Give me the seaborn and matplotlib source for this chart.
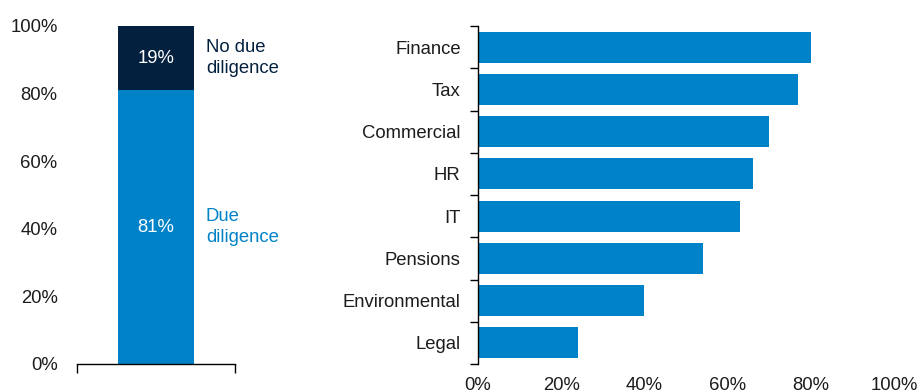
import numpy as np
import pandas as pd
import matplotlib
matplotlib.use("Agg")
import matplotlib.pyplot as plt
from matplotlib.ticker import FixedLocator, PercentFormatter
import seaborn as sns

# Share of deals with / without due diligence
due_diligence = 81
no_due_diligence = 19

# Areas covered by due diligence (% of deals)
areas = ["Finance", "Tax", "Commercial", "HR", "IT", "Pensions", "Environmental", "Legal"]
area_share = [80, 77, 70, 66, 63, 54, 40, 24]

x_ticks = [0, 20, 40, 60, 80, 100]

BLUE = "#0082C8"
NAVY = "#03203F"
TEXT = "#1c1c1c"
FS = 13.3

sns.set_theme(style="white")
plt.rcParams["font.family"] = ["Liberation Sans", "DejaVu Sans"]
plt.rcParams["font.size"] = FS

fig = plt.figure(figsize=(9.23, 3.92), dpi=100)
ax_l = fig.add_axes([77 / 923, 28 / 392, 158 / 923, 338 / 392])
ax_r = fig.add_axes([478 / 923, 28 / 392, 416 / 923, 338 / 392])

# ---- Left: stacked single column ----
split = pd.DataFrame({
    "group": ["all", "all"],
    "segment": ["No due diligence", "Due diligence"],
    "height": [due_diligence + no_due_diligence, due_diligence],
})
sns.barplot(data=split.iloc[[0]], x="group", y="height", color=NAVY,
            width=0.48, saturation=1, ax=ax_l, linewidth=0)
sns.barplot(data=split.iloc[[1]], x="group", y="height", color=BLUE,
            width=0.48, saturation=1, ax=ax_l, linewidth=0)

ax_l.set_xlim(-0.5, 0.5)
ax_l.set_ylim(0, 100)
ax_l.set_xlabel("")
ax_l.set_ylabel("")
ax_l.set_yticks(x_ticks)
ax_l.yaxis.set_major_formatter(PercentFormatter(decimals=0))
ax_l.set_xticks([-0.5, 0.5])
ax_l.set_xticklabels(["", ""])
ax_l.tick_params(axis="x", direction="out", length=6.5, width=1, color="black", bottom=True)
ax_l.tick_params(axis="y", length=0, pad=14, labelcolor=TEXT, labelsize=FS)
for side in ["left", "right", "top"]:
    ax_l.spines[side].set_visible(False)
ax_l.spines["bottom"].set_color("black")
ax_l.spines["bottom"].set_linewidth(1)

ax_l.text(0, due_diligence + no_due_diligence / 2, f"{no_due_diligence}%",
          ha="center", va="center", color="white", fontsize=FS)
ax_l.text(0, due_diligence / 2, f"{due_diligence}%",
          ha="center", va="center", color="white", fontsize=FS)
ax_l.text(0.315, due_diligence + no_due_diligence / 2, "No due\ndiligence",
          ha="left", va="center", color=NAVY, fontsize=FS, clip_on=False,
          linespacing=1.32)
ax_l.text(0.315, due_diligence / 2, "Due\ndiligence",
          ha="left", va="center", color=BLUE, fontsize=FS, clip_on=False,
          linespacing=1.32)

# ---- Right: horizontal bars by area ----
area_df = pd.DataFrame({"area": areas, "share": area_share})
sns.barplot(data=area_df, y="area", x="share", color=BLUE, orient="h",
            width=0.73, saturation=1, ax=ax_r, linewidth=0)

ax_r.set_xlim(0, 100)
ax_r.set_ylim(len(areas) - 0.5, -0.5)
ax_r.set_xlabel("")
ax_r.set_ylabel("")
ax_r.set_xticks(x_ticks)
ax_r.xaxis.set_major_formatter(PercentFormatter(decimals=0))
ax_r.tick_params(axis="x", length=0, pad=9, labelcolor=TEXT, labelsize=FS)
ax_r.tick_params(axis="y", which="major", length=0, pad=12.5, labelcolor=TEXT, labelsize=FS)
ax_r.yaxis.set_minor_locator(FixedLocator(np.arange(-0.5, len(areas), 1)))
ax_r.tick_params(axis="y", which="minor", direction="out", length=6, width=1,
                 color="black", left=True)
for side in ["bottom", "right", "top"]:
    ax_r.spines[side].set_visible(False)
ax_r.spines["left"].set_color("black")
ax_r.spines["left"].set_linewidth(1)

fig.savefig("out.png", dpi=100)
